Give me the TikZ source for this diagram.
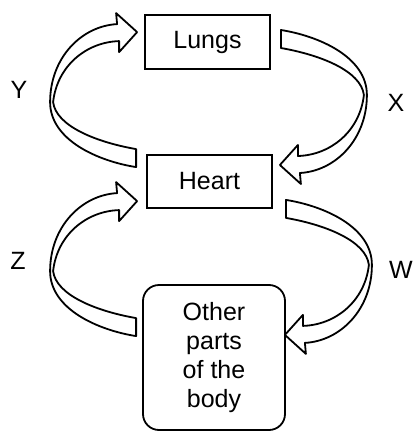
\documentclass[tikz,border=0pt]{standalone}
\usepackage{fontspec}
\setmainfont{Liberation Sans}
\usetikzlibrary{calc,positioning}

\begin{document}
\begin{tikzpicture}[x=1pt,y=1pt,line width=1.8pt,
          organ/.style={
            draw,
            rectangle,
            align=center,
            minimum width=125pt,
            minimum height=54pt,
            font=\fontsize{25}{29}\selectfont},
          body/.style={
            organ,
            rounded corners=16pt,
            minimum width=142pt,
            minimum height=145pt},
          letter/.style={font=\fontsize{25}{25}\selectfont},
          ribbon/.pic={
            \filldraw[fill=white, line join=round]
              (0,-9) .. controls (-38,-3) and (-86,18) .. (-86,56)
              .. controls (-86,100) and (-55,132) .. (-19,134)
              -- (-20,145) -- (1,126) -- (-17,106) -- (-17,117)
              .. controls (-50,116) and (-79,92) .. (-83,56)
              .. controls (-80,32) and (-40,16) .. (0,9) -- cycle;
          } ]

          \useasboundingbox (0,0) rectangle (414,-431);

          \node[organ] (lungs) at (207.5,-42) {Lungs};
          \node[organ, minimum height=53pt] (heart) at (209.5,-181.5) {Heart};
          \node[body] (other) at (214,-357.5) {Other\\parts\\of the\\body};

          \node[letter] (labelY) at (19,-90) {Y};
          \node[letter] (labelX) at (396,-103) {X};
          \node[letter] (labelZ) at (18,-261) {Z};
          \node[letter] (labelW) at (401,-270) {W};

          \pic at ($(heart.north west)+(-10,-4)$) {ribbon};
          \pic[rotate=180] at ($(lungs.east)+(10,3)$) {ribbon};
          \pic at ($(other.north west)+(-6,-43)$) {ribbon};
          \pic[rotate=180] at ($(heart.south east)+(13,0)$) {ribbon};
        \end{tikzpicture}
\end{document}
